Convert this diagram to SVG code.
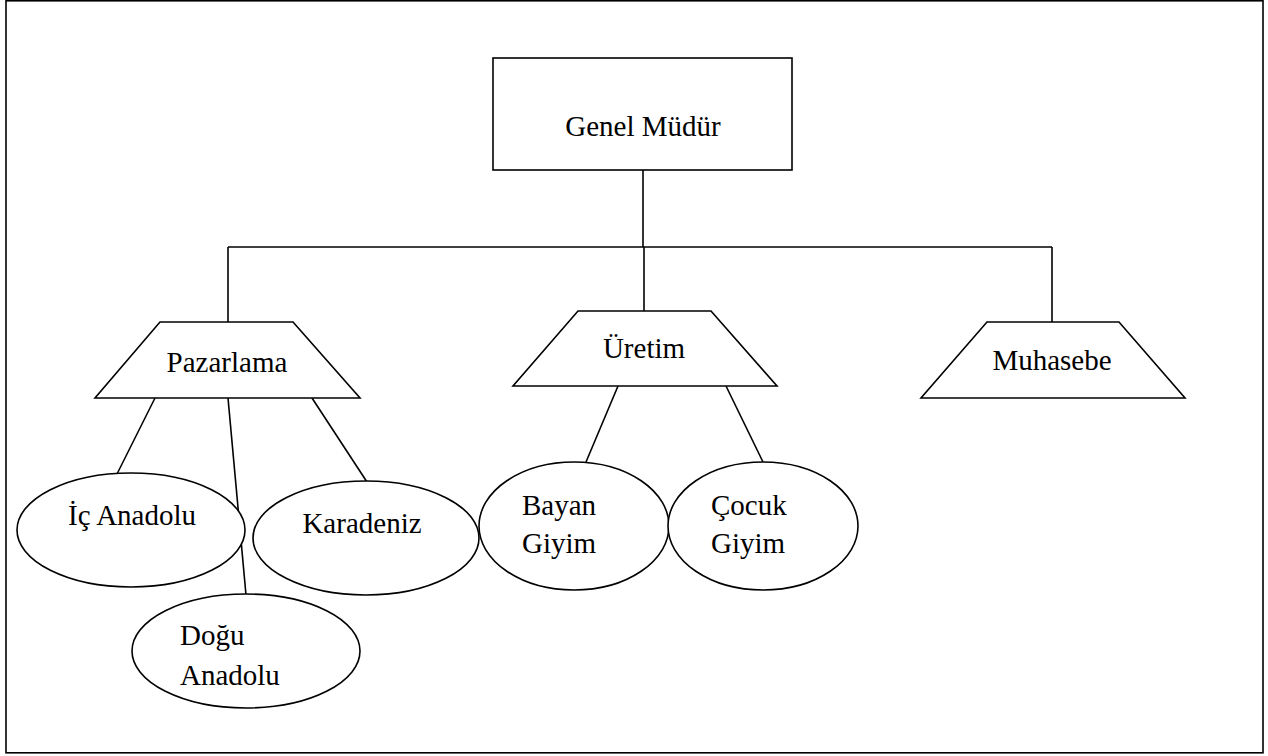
<svg xmlns="http://www.w3.org/2000/svg" width="1268" height="756" viewBox="0 0 1268 756">
  <style>
    .shape { fill: #ffffff; stroke: #000000; stroke-width: 1.6; }
    .link { fill: none; stroke: #000000; stroke-width: 1.6; }
    .label { font-family: "Liberation Serif", "Times New Roman", serif; font-size: 29px; fill: #000000; }
    .mid { text-anchor: middle; }
  </style>
  <rect x="0" y="0" width="1268" height="756" fill="#ffffff"/>
  <!-- page frame -->
  <rect x="6" y="0.8" width="1257" height="752" fill="none" stroke="#000000" stroke-width="1.6"/>

  <g id="connectors">
    <!-- trunk from the director down to the bus -->
    <line class="link" x1="643" y1="170" x2="643" y2="247"/>
    <line class="link" x1="228" y1="247" x2="1052" y2="247"/>
    <line class="link" x1="228" y1="247" x2="228" y2="322"/>
    <line class="link" x1="644" y1="247" x2="644" y2="311"/>
    <line class="link" x1="1052" y1="247" x2="1052" y2="322"/>
    <!-- Pazarlama branches -->
    <line class="link" x1="155" y1="398" x2="117" y2="474"/>
    <line class="link" x1="228" y1="398" x2="246" y2="595"/>
    <line class="link" x1="312" y1="398" x2="367" y2="482"/>
    <!-- Üretim branches -->
    <line class="link" x1="618" y1="386" x2="586" y2="462"/>
    <line class="link" x1="726" y1="386" x2="763" y2="462"/>
  </g>

  <g id="genel-mudur">
    <rect class="shape" x="493" y="58" width="299" height="112"/>
    <text class="label mid" x="643" y="136">Genel Müdür</text>
  </g>

  <g id="pazarlama">
    <polygon class="shape" points="160,322 293,322 360,398 95,398"/>
    <text class="label mid" x="227" y="372">Pazarlama</text>
  </g>

  <g id="uretim">
    <polygon class="shape" points="578,311 711,311 777,386 513,386"/>
    <text class="label mid" x="644" y="358">Üretim</text>
  </g>

  <g id="muhasebe">
    <polygon class="shape" points="987,322 1119,322 1185,398 921,398"/>
    <text class="label mid" x="1052" y="370">Muhasebe</text>
  </g>

  <g id="ic-anadolu">
    <ellipse class="shape" cx="131" cy="530" rx="114" ry="57"/>
    <text class="label mid" x="132" y="525">İç Anadolu</text>
  </g>

  <g id="karadeniz">
    <ellipse class="shape" cx="366" cy="538" rx="113" ry="57"/>
    <text class="label mid" x="362" y="533">Karadeniz</text>
  </g>

  <g id="dogu-anadolu">
    <ellipse class="shape" cx="246" cy="651" rx="114" ry="57"/>
    <text class="label" x="180" y="645">Doğu</text>
    <text class="label" x="180" y="685">Anadolu</text>
  </g>

  <g id="bayan-giyim">
    <ellipse class="shape" cx="574" cy="526" rx="95" ry="64"/>
    <text class="label" x="522" y="515">Bayan</text>
    <text class="label" x="522" y="553">Giyim</text>
  </g>

  <g id="cocuk-giyim">
    <ellipse class="shape" cx="763" cy="526" rx="95" ry="64"/>
    <text class="label" x="711" y="515">Çocuk</text>
    <text class="label" x="711" y="553">Giyim</text>
  </g>
</svg>
